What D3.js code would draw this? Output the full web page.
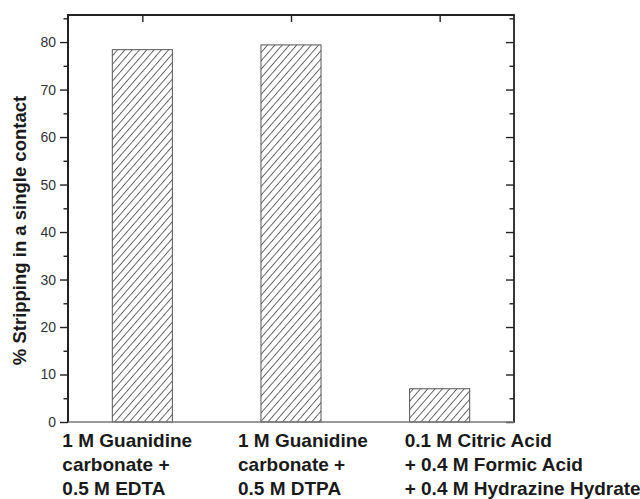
<!DOCTYPE html>
<html>
<head>
<meta charset="utf-8">
<script src="https://cdn.jsdelivr.net/npm/d3@7"></script>
<style>
  html, body { margin: 0; padding: 0; background: #fff; }
  svg { display: block; font-family: "Liberation Sans", Arial, sans-serif; }
</style>
</head>
<body>
<svg id="chart" width="640" height="499"></svg>
<script>
// --- data ---
const categories = [
  ["1 M Guanidine", "carbonate +", "0.5 M EDTA"],
  ["1 M Guanidine", "carbonate +", "0.5 M DTPA"],
  ["0.1 M Citric Acid", "+ 0.4 M Formic Acid", "+ 0.4 M Hydrazine Hydrate"]
];
const stripping = [78.4, 79.4, 7.0];
const majorTicks = [0, 10, 20, 30, 40, 50, 60, 70, 80];
const minorTicks = [5, 15, 25, 35, 45, 55, 65, 75, 85];
const yLabel = "% Stripping in a single contact";

// --- layout ---
const W = 640, H = 499;
const margin = { top: 15, right: 126, bottom: 77, left: 68 };
const x0 = margin.left, x1 = W - margin.right;
const y0 = H - margin.bottom, y1 = margin.top;

const svg = d3.select("#chart");

const x = d3.scaleBand()
  .domain(d3.range(categories.length))
  .range([x0, x1])
  .paddingInner(0.596)
  .paddingOuter(0.298);

const y = d3.scaleLinear()
  .domain([0, 85.7])
  .range([y0, y1]);

// hatch pattern for the bars
const defs = svg.append("defs");
defs.append("pattern")
  .attr("id", "hatch")
  .attr("patternUnits", "userSpaceOnUse")
  .attr("width", 5.5)
  .attr("height", 10)
  .attr("patternTransform", "rotate(41)")
  .append("line")
  .attr("x1", 0.5).attr("y1", 0)
  .attr("x2", 0.5).attr("y2", 10)
  .attr("stroke", "#3a3a3a")
  .attr("stroke-width", 0.8);

// bars
svg.selectAll(".bar")
  .data(stripping)
  .enter()
  .append("rect")
  .attr("class", "bar")
  .attr("x", (d, i) => x(i))
  .attr("y", d => y(d))
  .attr("width", x.bandwidth())
  .attr("height", d => y0 - y(d))
  .attr("fill", "url(#hatch)")
  .attr("stroke", "#555")
  .attr("stroke-width", 1);

const minorIn = minorTicks.filter(v => v < y.domain()[1]);

// left axis (outward ticks, labels)
const left = svg.append("g")
  .attr("transform", `translate(${x0},0)`)
  .call(d3.axisLeft(y).tickValues(majorTicks).tickSize(8).tickPadding(4).tickFormat(d3.format("d")));
left.select(".domain").remove();
left.selectAll(".tick line").attr("stroke", "#222").attr("stroke-width", 1.4);
left.selectAll(".tick text")
  .attr("fill", "#333")
  .style("font-size", "14px");

svg.append("g")
  .attr("transform", `translate(${x0},0)`)
  .call(d3.axisLeft(y).tickValues(minorIn).tickSize(4.5).tickFormat(""))
  .call(g => g.select(".domain").remove())
  .selectAll(".tick line").attr("stroke", "#222").attr("stroke-width", 1.4);

// right axis (inward ticks)
svg.append("g")
  .attr("transform", `translate(${x1},0)`)
  .call(d3.axisLeft(y).tickValues(majorTicks).tickSize(8).tickFormat(""))
  .call(g => g.select(".domain").remove())
  .selectAll(".tick line").attr("stroke", "#222").attr("stroke-width", 1.4);

svg.append("g")
  .attr("transform", `translate(${x1},0)`)
  .call(d3.axisLeft(y).tickValues(minorIn).tickSize(4.5).tickFormat(""))
  .call(g => g.select(".domain").remove())
  .selectAll(".tick line").attr("stroke", "#222").attr("stroke-width", 1.4);

// top axis (inward ticks at category centres)
const xc = d3.scalePoint()
  .domain(d3.range(categories.length))
  .range([x(0) + x.bandwidth() / 2, x(categories.length - 1) + x.bandwidth() / 2]);
svg.append("g")
  .attr("transform", `translate(0,${y1})`)
  .call(d3.axisBottom(xc).tickSize(7).tickFormat(""))
  .call(g => g.select(".domain").remove())
  .selectAll(".tick line").attr("stroke", "#222").attr("stroke-width", 1.4);

// frame
svg.append("line").attr("x1", x0).attr("x2", x1).attr("y1", y1).attr("y2", y1)
  .attr("stroke", "#222").attr("stroke-width", 1.8);
svg.append("line").attr("x1", x0).attr("x2", x0).attr("y1", y1 - 0.9).attr("y2", y0 + 0.7)
  .attr("stroke", "#222").attr("stroke-width", 2);
svg.append("line").attr("x1", x1).attr("x2", x1).attr("y1", y1 - 0.9).attr("y2", y0 + 0.7)
  .attr("stroke", "#222").attr("stroke-width", 1.8);
svg.append("line").attr("x1", x0).attr("x2", x1).attr("y1", y0).attr("y2", y0)
  .attr("stroke", "#777").attr("stroke-width", 1.5);

// category labels (left-aligned blocks under each bar)
const labelShift = [-80, -53, -35];
const labels = svg.append("g")
  .style("font-size", "19px")
  .style("font-weight", "bold")
  .attr("fill", "#1a1a1a");
categories.forEach((lines, i) => {
  const t = labels.append("text")
    .attr("x", xc(i) + labelShift[i])
    .attr("y", 447);
  lines.forEach((s, j) => {
    t.append("tspan")
      .attr("x", xc(i) + labelShift[i])
      .attr("dy", j === 0 ? 0 : 24)
      .text(s);
  });
});

// y axis title
svg.append("text")
  .attr("transform", `translate(26,${(y0 + y1) / 2 + 12}) rotate(-90)`)
  .attr("text-anchor", "middle")
  .style("font-size", "18.5px")
  .style("font-weight", "bold")
  .attr("fill", "#1a1a1a")
  .text(yLabel);
</script>
</body>
</html>
